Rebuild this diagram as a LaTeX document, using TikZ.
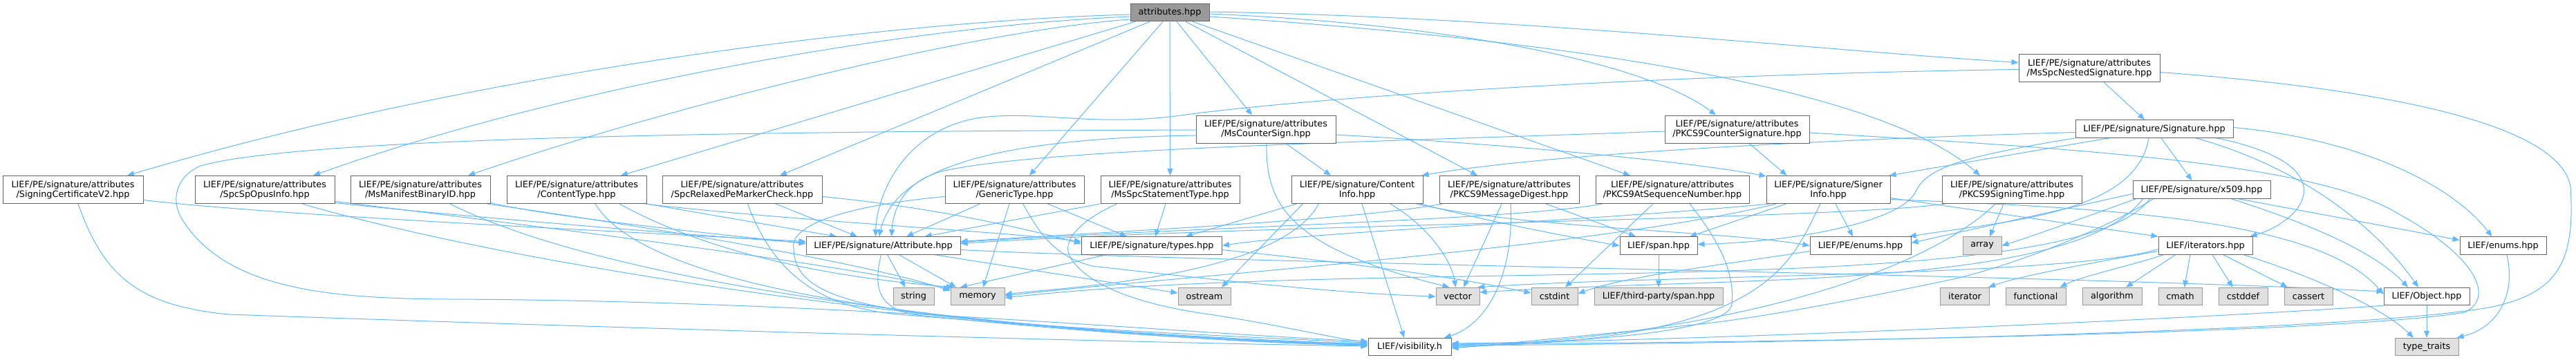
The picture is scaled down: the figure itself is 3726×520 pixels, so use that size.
\documentclass[tikz,border=0pt]{standalone}
\usepackage{fontspec}
\setmainfont{DejaVu Sans}
\usetikzlibrary{arrows.meta,calc,backgrounds}
\definecolor{edgec}{HTML}{63B8FF}
\definecolor{nodeb}{HTML}{666666}
\definecolor{sysb}{HTML}{999999}
\definecolor{sysf}{HTML}{E0E0E0}
\definecolor{rootf}{HTML}{999999}
\begin{document}
\begin{tikzpicture}[x=0.5pt,y=-0.5pt,
  font=\fontsize{6.4pt}{7pt}\selectfont,
  box/.style={draw=nodeb, fill=white, line width=0.5pt, inner sep=0pt, align=center, minimum height=20pt},
  box1/.style={box, minimum height=12.75pt},
  sys/.style={box1, draw=sysb, fill=sysf},
  rootn/.style={box1, fill=rootf},
  dep/.style={draw=edgec, line width=0.5pt, -{Triangle[length=5pt,width=4pt]}},
]
\useasboundingbox (0,0) rectangle (3726,520);
% nodes
\node[rootn, minimum width=57pt] (root) at (1692,18) {attributes.hpp};
\node[box, minimum width=101.5pt] (sc2) at (105.5,274.5) {LIEF/PE/signature/attributes\\/SigningCertificateV2.hpp};
\node[box, minimum width=101pt] (opus) at (383,274.5) {LIEF/PE/signature/attributes\\/SpcSpOpusInfo.hpp};
\node[box, minimum width=101pt] (mbid) at (608,274.5) {LIEF/PE/signature/attributes\\/MsManifestBinaryID.hpp};
\node[box, minimum width=101pt] (ctype) at (834,274.5) {LIEF/PE/signature/attributes\\/ContentType.hpp};
\node[box, minimum width=115.5pt] (relax) at (1073.5,274.5) {LIEF/PE/signature/attributes\\/SpcRelaxedPeMarkerCheck.hpp};
\node[box, minimum width=100.5pt] (generic) at (1467.5,274.5) {LIEF/PE/signature/attributes\\/GenericType.hpp};
\node[box, minimum width=100.5pt] (stmt) at (1692.5,274.5) {LIEF/PE/signature/attributes\\/MsSpcStatementType.hpp};
\node[box, minimum width=95pt] (cinfo) at (1963,274.5) {LIEF/PE/signature/Content\\Info.hpp};
\node[box, minimum width=101pt] (md) at (2183,274.5) {LIEF/PE/signature/attributes\\/PKCS9MessageDigest.hpp};
\node[box, minimum width=111pt] (seq) at (2419,274.5) {LIEF/PE/signature/attributes\\/PKCS9AtSequenceNumber.hpp};
\node[box, minimum width=89.5pt] (signer) at (2644.5,274.5) {LIEF/PE/signature/Signer\\Info.hpp};
\node[box, minimum width=101pt] (stime) at (2910,274.5) {LIEF/PE/signature/attributes\\/PKCS9SigningTime.hpp};
\node[box, minimum width=101pt] (mscs) at (1831,187) {LIEF/PE/signature/attributes\\/MsCounterSign.hpp};
\node[box, minimum width=104.5pt] (pcs) at (2512.5,187) {LIEF/PE/signature/attributes\\/PKCS9CounterSignature.hpp};
\node[box, minimum width=102pt] (nested) at (3022,98.5) {LIEF/PE/signature/attributes\\/MsSpcNestedSignature.hpp};
\node[box1, minimum width=114pt] (signature) at (3116,186.5) {LIEF/PE/signature/Signature.hpp};
\node[box1, minimum width=99.5pt] (x509) at (3184.5,274.5) {LIEF/PE/signature/x509.hpp};
\node[box1, minimum width=111.5pt] (attribute) at (1277.5,355.5) {LIEF/PE/signature/Attribute.hpp};
\node[box1, minimum width=101.5pt] (types) at (1666,355.5) {LIEF/PE/signature/types.hpp};
\node[box1, minimum width=56pt] (span) at (2399,355.5) {LIEF/span.hpp};
\node[box1, minimum width=73pt] (peenums) at (2691,355.5) {LIEF/PE/enums.hpp};
\node[sys, minimum width=28pt] (array) at (2867,355.5) {array};
\node[box1, minimum width=68pt] (iterators) at (3190,355.5) {LIEF/iterators.hpp};
\node[box1, minimum width=62.5pt] (lenums) at (3620.5,355.5) {LIEF/enums.hpp};
\node[sys, minimum width=29.5pt] (string) at (1321.5,429) {string};
\node[sys, minimum width=39pt] (memory) at (1414,429) {memory};
\node[sys, minimum width=38pt] (ostream) at (1742,429) {ostream};
\node[sys, minimum width=31.5pt] (vector) at (2108.5,429) {vector};
\node[sys, minimum width=33.5pt] (cstdint) at (2248.5,429) {cstdint};
\node[sys, minimum width=93pt] (tpspan) at (2399,429) {LIEF/third-party/span.hpp};
\node[sys, minimum width=35.5pt] (iterator) at (2842,429) {iterator};
\node[sys, minimum width=43.5pt] (functional) at (2944.5,429) {functional};
\node[sys, minimum width=43pt] (algorithm) at (3055,429) {algorithm};
\node[sys, minimum width=31.5pt] (cmath) at (3153.5,429) {cmath};
\node[sys, minimum width=35.5pt] (cstddef) at (3244.5,429) {cstddef};
\node[sys, minimum width=35pt] (cassert) at (3339,429) {cassert};
\node[box1, minimum width=62pt] (object) at (3510,429) {LIEF/Object.hpp};
\node[box1, minimum width=60pt] (visibility) at (2039,502) {LIEF/visibility.h};
\node[sys, minimum width=46pt] (typetraits) at (3510,502) {type\_traits};
\begin{scope}[on background layer]
% root
\draw[dep] ($(root.west)+(0,3)$) .. controls (1300,30) and (700,100) .. ($(sc2.north)+(78.5,0)$);
\draw[dep] ($(root.west)+(0,6)$) .. controls (1300,38) and (800,130) .. ($(opus.north)+(70,0)$);
\draw[dep] ($(root.west)+(0,10)$) .. controls (1400,45) and (950,160) .. ($(mbid.north)+(69,0)$);
\draw[dep] ($(root.south west)+(8,0)$) -- ($(ctype.north)+(64,0)$);
\draw[dep] ($(root.south)+(-29,0)$) -- ($(relax.north)+(54.5,0)$);
\draw[dep] ($(root.south)+(-10,0)$) -- ($(generic.north)+(21.5,0)$);
\draw[dep] (root.south) -- (stmt.north);
\draw[dep] ($(root.south)+(10,0)$) -- ($(mscs.north)+(-20,0)$);
\draw[dep] ($(root.south)+(23,0)$) -- ($(md.north)+(-46,0)$);
\draw[dep] ($(root.south)+(33,0)$) -- ($(seq.north)+(-61,0)$);
\draw[dep] ($(root.east)+(0,2)$) .. controls (2100,35) and (2380,90) .. ($(pcs.north)+(-30.5,0)$);
\draw[dep] ($(root.east)+(0,6)$) .. controls (2150,50) and (2700,110) .. ($(stime.north)+(-46,0)$);
\draw[dep] ($(root.east)+(0,-1)$) .. controls (2200,25) and (2600,70) .. ($(nested.west)+(0,-8)$);
% sc2
\draw[dep] ($(sc2.east)+(0,15)$) .. controls (400,312) and (900,335) .. ($(attribute.west)+(0,-6)$);
\draw[dep] ($(sc2.south)+(7.5,0)$) .. controls (150,400) and (200,442) .. (330,455) .. controls (900,475) and (1600,495) .. ($(visibility.west)+(0,-1)$);
% opus
\draw[dep] ($(opus.east)+(0,19)$) .. controls (650,312) and (1000,340) .. ($(attribute.west)+(0,-4)$);
\draw[dep] ($(opus.east)+(0,17)$) .. controls (800,330) and (1200,380) .. ($(memory.north west)+(0,3)$);
\draw[dep] ($(opus.south)+(54,0)$) .. controls (800,400) and (1500,490) .. ($(visibility.west)+(0,-2)$);
% mbid
\draw[dep] ($(mbid.east)+(0,19)$) .. controls (800,315) and (1050,340) .. ($(attribute.west)+(0,-3)$);
\draw[dep] ($(mbid.south east)+(-5,0)$) .. controls (950,330) and (1250,380) .. ($(memory.north west)+(0,5)$);
\draw[dep] ($(mbid.south)+(43,0)$) .. controls (900,420) and (1500,485) .. ($(visibility.west)+(0,-3)$);
% ctype
\draw[dep] (ctype.south east) -- ($(attribute.north)+(-67.5,0)$);
\draw[dep] ($(ctype.south east)+(-3,0)$) .. controls (1150,320) and (1450,335) .. ($(types.west)+(0,-6)$);
\draw[dep] ($(ctype.south)+(62,0)$) .. controls (1050,380) and (1250,405) .. ($(memory.north west)+(4,0)$);
\draw[dep] ($(ctype.south)+(27,0)$) .. controls (950,440) and (1500,480) .. ($(visibility.west)+(0,-4)$);
% relax
\draw[dep] ($(relax.south)+(48.5,0)$) -- ($(attribute.north)+(-37.5,0)$);
\draw[dep] ($(relax.east)+(0,10)$) .. controls (1350,300) and (1480,330) .. ($(types.west)+(0,-3)$);
\draw[dep] ($(relax.south)+(8,0)$) .. controls (1120,400) and (1190,445) .. (1300,455) .. controls (1600,480) and (1800,495) .. ($(visibility.west)+(0,-5)$);
% generic
\draw[dep] ($(generic.south)+(-50,0)$) -- ($(attribute.north)+(33.5,0)$);
\draw[dep] ($(generic.south)+(-7.5,0)$) -- ($(memory.north)+(8,0)$);
\draw[dep] ($(generic.south)+(48,0)$) -- ($(types.north)+(-36,0)$);
\draw[dep] ($(generic.south)+(12,0)$) .. controls (1500,330) and (1520,370) .. (1580,385) .. controls (1800,410) and (1950,425) .. (vector.west);
\draw[dep] ($(generic.west)+(0,10)$) .. controls (1250,295) and (1140,320) .. (1148,360) .. controls (1150,450) and (1300,465) .. ($(visibility.west)+(0,-6)$);
% stmt
\draw[dep] ($(stmt.south)+(-6.5,0)$) -- ($(types.north)+(5,0)$);
\draw[dep] (stmt.south west) -- ($(attribute.north)+(60,0)$);
\draw[dep] ($(stmt.south)+(-77,0)$) .. controls (1560,320) and (1535,350) .. (1548,372) .. controls (1570,410) and (1640,440) .. (1750,455) .. controls (1850,470) and (1930,490) .. ($(visibility.west)+(0,-7)$);
% mscs
\draw[dep] ($(mscs.south)+(29,0)$) -- ($(cinfo.north)+(-38,0)$);
\draw[dep] ($(mscs.east)+(0,8)$) .. controls (2200,210) and (2450,235) .. ($(signer.north west)+(0,1)$);
\draw[dep] ($(mscs.west)+(0,1)$) .. controls (1200,190) and (450,195) .. (290,240) .. controls (255,255) and (245,290) .. (265,320) .. controls (330,420) and (480,432) .. (650,433) .. controls (1200,435) and (1700,482) .. ($(visibility.west)+(0,-8)$);
\draw[dep] ($(mscs.south)+(1,0)$) .. controls (1830,300) and (1870,360) .. ($(vector.north)+(-12,0)$);
\draw[dep] ($(mscs.west)+(0,9)$) .. controls (1450,200) and (1295,240) .. ($(attribute.north)+(-6,0)$);
% cinfo
\draw[dep] ($(cinfo.south west)+(8,0)$) -- ($(types.north)+(49,0)$);
\draw[dep] ($(cinfo.south)+(7,0)$) -- ($(visibility.north)+(-8,0)$);
\draw[dep] ($(cinfo.south)+(48,0)$) .. controls (2070,330) and (2100,380) .. ($(vector.north)+(-3,0)$);
\draw[dep] ($(cinfo.south east)+(-4,0)$) .. controls (2150,320) and (2280,345) .. (span.west);
\draw[dep] ($(cinfo.south west)+(17,0)$) -- ($(ostream.north)+(25,0)$);
\draw[dep] ($(cinfo.south west)+(40,0)$) .. controls (1850,400) and (1550,415) .. ($(memory.east)+(0,-3)$);
\draw[dep] ($(cinfo.south east)+(-10,0)$) .. controls (2200,330) and (2500,335) .. (peenums.west);
% md
\draw[dep] ($(md.south west)+(5,0)$) .. controls (1950,320) and (1600,335) .. ($(attribute.east)+(0,-6)$);
\draw[dep] ($(md.south)+(-11,0)$) -- ($(vector.north)+(8.5,0)$);
\draw[dep] ($(md.south)+(2,0)$) .. controls (2190,400) and (2150,470) .. ($(visibility.north)+(50,0)$);
\draw[dep] ($(md.south)+(53,0)$) -- ($(span.north)+(-33,0)$);
% seq
\draw[dep] ($(seq.south west)+(10,0)$) .. controls (2200,318) and (1700,330) .. ($(attribute.east)+(0,-5)$);
\draw[dep] ($(seq.south)+(-28,0)$) -- ($(cstdint.north)+(15.5,0)$);
\draw[dep] ($(seq.south)+(25,0)$) .. controls (2480,340) and (2510,390) .. (2505,440) .. controls (2500,480) and (2300,495) .. ($(visibility.east)+(0,-3)$);
% pcs
\draw[dep] ($(pcs.south)+(17.5,0)$) -- ($(signer.north)+(-60,0)$);
\draw[dep] ($(pcs.west)+(0,3)$) .. controls (2000,205) and (1500,215) .. (1362,248) .. controls (1310,262) and (1292,300) .. ($(attribute.north)+(12,0)$);
\draw[dep] ($(pcs.east)+(0,5)$) .. controls (3000,215) and (3350,235) .. (3470,310) .. controls (3580,370) and (3610,430) .. (3565,452) .. controls (3400,480) and (2700,495) .. ($(visibility.east)+(0,-4)$);
% signer
\draw[dep] ($(signer.south)+(10.5,0)$) -- ($(peenums.north)+(-11,0)$);
\draw[dep] ($(signer.south)+(-11.5,0)$) .. controls (2590,380) and (2560,495) .. ($(visibility.east)+(0,-1)$);
\draw[dep] ($(signer.south)+(-61,0)$) -- ($(span.north)+(45,0)$);
\draw[dep] ($(signer.east)+(0,12)$) -- (iterators.north west);
\draw[dep] ($(signer.east)+(0,14)$) .. controls (3000,300) and (3350,310) .. ($(object.west)+(0,-3)$);
\draw[dep] ($(signer.south west)+(5,0)$) .. controls (2300,320) and (1900,335) .. (types.east);
\draw[dep] ($(signer.south west)+(15,0)$) .. controls (2300,360) and (1700,400) .. ($(memory.east)+(0,-1)$);
% stime
\draw[dep] ($(stime.south)+(-12,0)$) -- ($(array.north)+(11,0)$);
\draw[dep] ($(stime.south west)+(5,0)$) .. controls (2650,318) and (1800,325) .. ($(attribute.east)+(0,-3)$);
\draw[dep] ($(stime.south)+(-24,0)$) .. controls (2800,380) and (2550,480) .. ($(visibility.east)+(0,1)$);
% nested
\draw[dep] ($(nested.south)+(21,0)$) -- ($(signature.north)+(-14,0)$);
\draw[dep] ($(nested.west)+(0,2)$) .. controls (2400,108) and (1900,140) .. (1700,168) .. controls (1580,183) and (1500,160) .. (1420,170) .. controls (1310,185) and (1268,280) .. ($(attribute.north)+(-11,0)$);
\draw[dep] ($(nested.east)+(0,6)$) .. controls (3400,125) and (3700,170) .. (3718,270) .. controls (3725,380) and (3700,425) .. (3600,445) .. controls (3400,480) and (2600,497) .. ($(visibility.east)+(0,-2)$);
% signature
\draw[dep] ($(signature.west)+(0,5)$) .. controls (2700,200) and (2250,220) .. ($(cinfo.north east)+(-2,0)$);
\draw[dep] ($(signature.south)+(-65,0)$) -- ($(signer.north east)+(-2,0)$);
\draw[dep] ($(signature.south)+(10,0)$) -- ($(x509.north)+(-14,0)$);
\draw[dep] ($(signature.south)+(90,0)$) .. controls (3400,240) and (3330,320) .. ($(iterators.north east)+(-4,0)$);
\draw[dep] ($(signature.south)+(60,0)$) .. controls (3320,240) and (3430,320) .. ($(object.north)+(-12,0)$);
\draw[dep] ($(signature.east)+(0,-2)$) .. controls (3400,200) and (3540,260) .. ($(lenums.north)+(-16,0)$);
\draw[dep] ($(signature.south)+(-8,0)$) .. controls (3090,310) and (2900,320) .. ($(peenums.north east)+(-3,0)$);
\draw[dep] (signature.south west) .. controls (2850,225) and (2790,240) .. (2772,275) .. controls (2755,320) and (2600,350) .. ($(span.east)+(0,-2)$);
% x509
\draw[dep] ($(x509.south)+(53.5,0)$) -- ($(lenums.west)+(0,-8)$);
\draw[dep] ($(x509.south)+(43,0)$) .. controls (3360,330) and (3440,370) .. ($(object.north)+(-27,0)$);
\draw[dep] ($(x509.south west)+(5,0)$) .. controls (3000,320) and (2930,345) .. (array.east);
\draw[dep] ($(x509.west)+(0,6)$) -- ($(peenums.east)+(0,-4)$);
\draw[dep] ($(x509.south west)+(15,0)$) .. controls (3000,420) and (2500,400) .. ($(vector.east)+(0,-6)$);
\draw[dep] ($(x509.south west)+(25,0)$) .. controls (3000,440) and (2000,370) .. ($(memory.east)+(0,2)$);
\draw[dep] ($(x509.south west)+(30,0)$) .. controls (3050,330) and (2900,390) .. (2806,408) .. controls (2700,430) and (2550,460) .. (2450,470) .. controls (2300,485) and (2200,495) .. ($(visibility.east)+(0,2)$);
% iterators
\draw[dep] ($(iterators.south)+(-22,0)$) -- ($(cmath.north)+(6,0)$);
\draw[dep] ($(iterators.south)+(10,0)$) -- ($(cstddef.north)+(-15,0)$);
\draw[dep] ($(iterators.south)+(26,0)$) -- ($(cassert.north)+(-30,0)$);
\draw[dep] ($(iterators.south east)+(-13,0)$) .. controls (3330,395) and (3440,440) .. ($(typetraits.north)+(-19,0)$);
\draw[dep] ($(iterators.west)+(0,8)$) .. controls (3000,385) and (2920,400) .. ($(iterator.north east)+(-2,0)$);
\draw[dep] ($(iterators.south west)+(8,0)$) .. controls (3080,385) and (3010,400) .. ($(functional.north)+(35,0)$);
\draw[dep] ($(iterators.south west)+(25,0)$) -- ($(algorithm.north)+(20,0)$);
\draw[dep] ($(iterators.west)+(0,5)$) .. controls (3000,400) and (2400,398) .. ($(vector.north east)+(-3,0)$);
% attribute
\draw[dep] ($(attribute.south)+(6,0)$) -- ($(string.north)+(-12,0)$);
\draw[dep] ($(attribute.south)+(23,0)$) -- ($(memory.north)+(-31,0)$);
\draw[dep] ($(attribute.south)+(-3,0)$) .. controls (1262,420) and (1270,455) .. (1350,458) .. controls (1600,485) and (1850,497) .. ($(visibility.west)+(0,-3)$);
\draw[dep] ($(attribute.south east)+(-37,0)$) -- ($(ostream.west)+(0,-5)$);
\draw[dep] ($(attribute.east)+(0,6)$) .. controls (1800,382) and (3000,398) .. ($(object.west)+(0,-7)$);
% types
\draw[dep] ($(types.south)+(-66,0)$) -- ($(memory.north)+(-25,0)$);
\draw[dep] ($(types.east)+(0,6)$) .. controls (1950,380) and (2100,400) .. ($(cstdint.west)+(0,-5)$);
% others
\draw[dep] (span) -- (tpspan);
\draw[dep] (object) -- (typetraits);
\draw[dep] (object.south west) .. controls (3200,460) and (2500,492) .. ($(visibility.east)+(0,-5)$);
\draw[dep] ($(lenums.south)+(5.5,0)$) .. controls (3640,430) and (3610,475) .. ($(typetraits.north east)+(-3,0)$);
\draw[dep] ($(peenums.west)+(0,8)$) .. controls (2480,385) and (2350,400) .. ($(cstdint.east)+(0,-4)$);
\end{scope}
\end{tikzpicture}
\end{document}
